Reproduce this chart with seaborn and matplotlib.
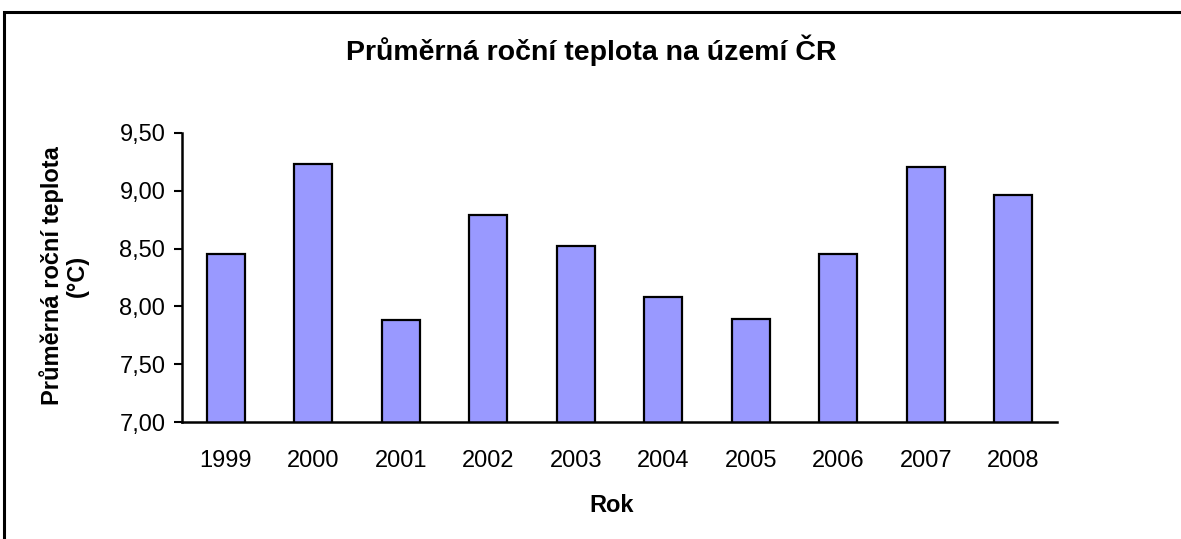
import matplotlib
matplotlib.use("Agg")
import matplotlib.pyplot as plt
import seaborn as sns
import pandas as pd
from matplotlib.patches import Rectangle
from matplotlib.ticker import FixedLocator, FuncFormatter

years = ["1999", "2000", "2001", "2002", "2003", "2004", "2005", "2006", "2007", "2008"]
temps = [8.45, 9.23, 7.88, 8.79, 8.52, 8.08, 7.89, 8.45, 9.21, 8.96]
ytick_values = [7.0, 7.5, 8.0, 8.5, 9.0, 9.5]

title = "Průměrná roční teplota na území ČR"
ylabel = "Průměrná roční teplota\n(°C)"
xlabel = "Rok"

sns.set_theme(style="white")
plt.rcParams['font.family'] = ['Liberation Sans', 'DejaVu Sans']
plt.rcParams['text.color'] = 'black'

W, H = 1181, 539
fig = plt.figure(figsize=(W / 100, H / 100), dpi=100)
ax = fig.add_axes([182 / W, 1 - 422 / H, (1057 - 182) / W, (422 - 133) / H])

df = pd.DataFrame({"Rok": years, "T": temps})
sns.barplot(data=df, x="Rok", y="T", color="#9999FF", edgecolor="black",
            linewidth=1.6, width=0.435, ax=ax, saturation=1)

ax.set_ylim(7.0, 9.5)
ax.set_xlim(-0.5, len(years) - 0.5)
ax.set_yticks(ytick_values)
ax.yaxis.set_major_formatter(FuncFormatter(lambda v, p: f"{v:.2f}".replace(".", ",")))

ax.xaxis.set_major_locator(FixedLocator([i - 0.5 for i in range(len(years) + 1)]))
ax.xaxis.set_major_formatter(FuncFormatter(lambda v, p: ""))
ax.set_xticks(range(len(years)), labels=years, minor=True)
ax.tick_params(axis="x", which="major", direction="out", length=6, width=1.5, color="black")
ax.tick_params(axis="x", which="minor", length=0, pad=20, labelsize=17, labelcolor="black")
ax.tick_params(axis="y", which="major", direction="out", length=6, width=1.5, color="black",
               pad=6, labelsize=17, labelcolor="black", left=True)

for s in ["top", "right"]:
    ax.spines[s].set_visible(False)
for s in ["left", "bottom"]:
    ax.spines[s].set_color("black")
    ax.spines[s].set_linewidth(1.8)
ax.set_xlabel("")
ax.set_ylabel("")

fig.text(591 / W, 1 - 50 / H, title, ha="center", va="center", fontsize=20.5,
         fontweight="bold", color="black")
fig.text(64 / W, 1 - 276 / H, ylabel, ha="center", va="center", rotation=90,
         fontsize=17, fontweight="bold", linespacing=1.15, multialignment="center", color="black")
fig.text(612 / W, 1 - 505 / H, xlabel, ha="center", va="center", fontsize=17,
         fontweight="bold", color="black")

fig.patches.append(Rectangle((4 / W, -0.05), 1.1, 1 - 12 / H + 0.05, transform=fig.transFigure,
                             fill=False, edgecolor="black", linewidth=2.2))

fig.savefig("out.png", dpi=100)
